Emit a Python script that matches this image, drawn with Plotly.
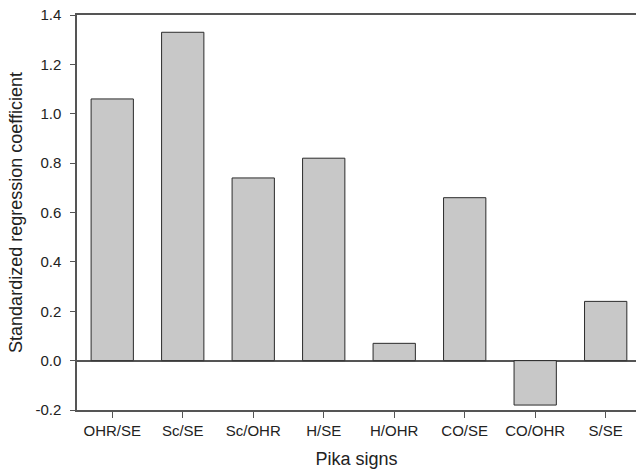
import plotly.graph_objects as go

# Pika sign ratios and their standardized regression coefficients
signs = ["OHR/SE", "Sc/SE", "Sc/OHR", "H/SE", "H/OHR", "CO/SE", "CO/OHR", "S/SE"]
coefficients = [1.06, 1.33, 0.74, 0.82, 0.07, 0.66, -0.18, 0.24]

y_ticks = [-0.2, 0.0, 0.2, 0.4, 0.6, 0.8, 1.0, 1.2, 1.4]
y_tick_text = ["-0.2", "0.0", "0.2", "0.4", "0.6", "0.8", "1.0", "1.2", "1.4"]

axis_color = "#555555"
text_color = "#222222"
font_family = "Liberation Sans"

fig = go.Figure(
    go.Bar(
        x=list(range(len(signs))),
        y=coefficients,
        width=0.6,
        marker=dict(color="#c8c8c8", line=dict(color="#2b2b2b", width=1)),
    )
)

fig.update_layout(
    width=636,
    height=474,
    margin=dict(l=77, r=0, t=15, b=64),
    paper_bgcolor="white",
    plot_bgcolor="white",
    showlegend=False,
    font=dict(family=font_family, size=15, color=text_color),
)

fig.update_xaxes(
    range=[-0.5, 7.43],
    tickmode="array",
    tickvals=list(range(len(signs))),
    ticktext=signs,
    ticks="outside",
    ticklen=6,
    tickwidth=1.2,
    tickcolor=axis_color,
    showline=True,
    linecolor=axis_color,
    linewidth=1.5,
    mirror=True,
    showgrid=False,
    zeroline=False,
    tickfont=dict(family=font_family, size=15, color=text_color),
    title=dict(text="Pika signs", font=dict(family=font_family, size=18, color=text_color), standoff=15),
)

fig.update_yaxes(
    range=[-0.2, 1.4],
    tickmode="array",
    tickvals=y_ticks,
    ticktext=y_tick_text,
    ticks="outside",
    ticklen=5,
    tickwidth=1.2,
    tickcolor=axis_color,
    showline=True,
    linecolor=axis_color,
    linewidth=1.5,
    showgrid=False,
    zeroline=True,
    zerolinecolor=axis_color,
    zerolinewidth=1.5,
    ticklabelstandoff=6,
    tickfont=dict(family=font_family, size=15, color=text_color),
    title=dict(text="Standardized regression coefficient", font=dict(family=font_family, size=18, color=text_color), standoff=8),
)

fig.write_html("out.html")
